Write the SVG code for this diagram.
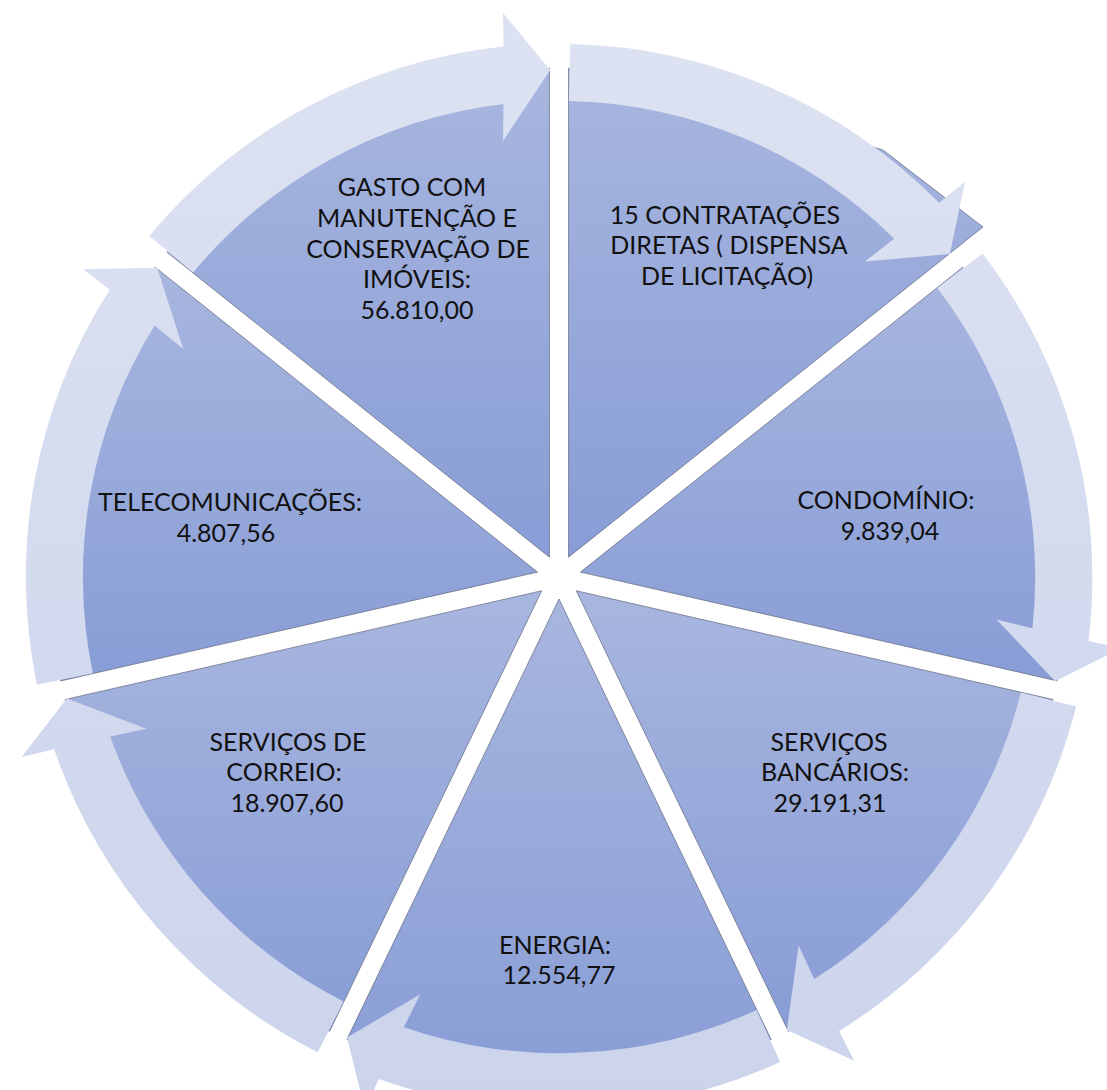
<svg xmlns="http://www.w3.org/2000/svg" width="1107" height="1090" viewBox="0 0 1107 1090">
<defs>
<linearGradient id="pg" x1="0" y1="0" x2="0" y2="1"><stop offset="0" stop-color="#a8b6df"/><stop offset="1" stop-color="#889dd6"/></linearGradient>
<linearGradient id="a0" gradientUnits="userSpaceOnUse" x1="0" y1="40" x2="0" y2="1090"><stop offset="0" stop-color="#dde2f2"/><stop offset="1" stop-color="#ccd4ec"/></linearGradient>
<linearGradient id="a1" href="#a0" gradientTransform="rotate(-51.43 559 577)"/>
<linearGradient id="a2" href="#a0" gradientTransform="rotate(-102.86 559 577)"/>
<linearGradient id="a3" href="#a0" gradientTransform="rotate(-154.29 559 577)"/>
<linearGradient id="a4" href="#a0" gradientTransform="rotate(-205.71 559 577)"/>
<linearGradient id="a5" href="#a0" gradientTransform="rotate(-257.14 559 577)"/>
<linearGradient id="a6" href="#a0" gradientTransform="rotate(-308.57 559 577)"/>
<path id="arr" d="M149.3,236 A533,533 0 0 1 503.5,46.5 L503,13 L550.2,70.1 L503,141 L503.5,104 A476,476 0 0 0 193.1,272.5 Z"/>
</defs>
<style>
.pc{fill:url(#pg);stroke:#4d5366;stroke-width:0.9;stroke-opacity:0.65}
.t{font-family:Lato,"Liberation Sans",sans-serif;font-size:25px;fill:#111;text-anchor:middle}
</style>
<rect width="1107" height="1090" fill="#fff"/>
<g id="n-gasto">
<path class="pc" d="M549.45,557.18 L167.14,252.29 A489,489 0 0 1 549.45,68.18 Z"/>
</g>
<g id="n-contratacoes">
<path class="pc" d="M568.55,557.18 L568.55,68.18 A489,489 0 0 1 798.1,125.4 L883,150 L983,227 Z"/>
</g>
<g id="n-condominio">
<path class="pc" d="M580.45,572.1 L962.76,267.21 A489,489 0 0 1 1057.19,680.91 Z"/>
</g>
<g id="n-bancarios">
<path class="pc" d="M576.2,590.72 L1052.94,699.53 A489,489 0 0 1 788.37,1031.29 Z"/>
</g>
<g id="n-energia">
<path class="pc" d="M559,599 L771.17,1039.57 A489,489 0 0 1 346.83,1039.57 Z"/>
</g>
<g id="n-correio">
<path class="pc" d="M541.8,590.72 L329.63,1031.29 A489,489 0 0 1 65.06,699.53 Z"/>
</g>
<g id="n-telecom">
<path class="pc" d="M537.55,572.1 L60.81,680.91 A489,489 0 0 1 155.24,267.21 Z"/>
</g>
<g id="connectors">
<use href="#arr" fill="url(#a0)"/>
<use href="#arr" fill="url(#a1)" transform="rotate(51.43 559 577)"/>
<use href="#arr" fill="url(#a2)" transform="rotate(102.86 559 577)"/>
<use href="#arr" fill="url(#a3)" transform="rotate(154.29 559 577)"/>
<use href="#arr" fill="url(#a4)" transform="rotate(205.71 559 577)"/>
<use href="#arr" fill="url(#a5)" transform="rotate(257.14 559 577)"/>
<use href="#arr" fill="url(#a6)" transform="rotate(308.57 559 577)"/>
</g>
<g id="labels">
<text class="t"><tspan x="412" y="196">GASTO COM</tspan><tspan x="417" y="227">MANUTENÇÃO E</tspan><tspan x="418" y="258">CONSERVAÇÃO DE</tspan><tspan x="417" y="288">IMÓVEIS:</tspan><tspan x="417" y="319">56.810,00</tspan></text>
<text class="t"><tspan x="725" y="224">15 CONTRATAÇÕES</tspan><tspan x="729" y="254">DIRETAS ( DISPENSA</tspan><tspan x="727" y="285">DE LICITAÇÃO)</tspan></text>
<text class="t"><tspan x="886" y="509">CONDOMÍNIO:</tspan><tspan x="890" y="540">9.839,04</tspan></text>
<text class="t"><tspan x="829" y="751">SERVIÇOS</tspan><tspan x="835" y="781">BANCÁRIOS:</tspan><tspan x="830" y="812">29.191,31</tspan></text>
<text class="t"><tspan x="555" y="954">ENERGIA:</tspan><tspan x="559" y="984">12.554,77</tspan></text>
<text class="t"><tspan x="288" y="751">SERVIÇOS DE</tspan><tspan x="284" y="781">CORREIO:</tspan><tspan x="287" y="812">18.907,60</tspan></text>
<text class="t"><tspan x="230" y="511">TELECOMUNICAÇÕES:</tspan><tspan x="226" y="542">4.807,56</tspan></text>
</g>
</svg>
